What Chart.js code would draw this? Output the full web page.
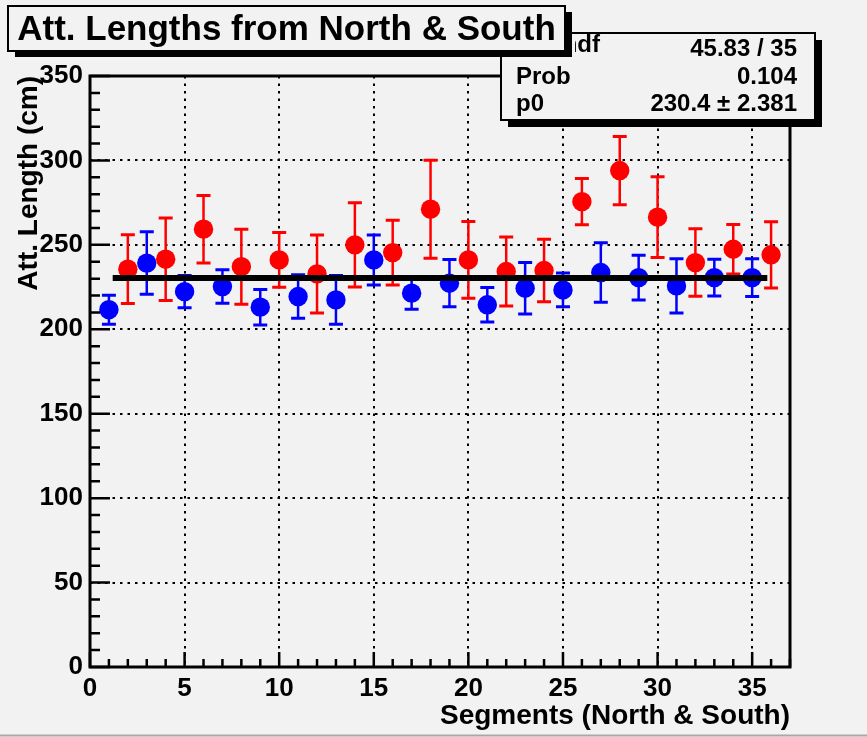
<!DOCTYPE html>
<html><head><meta charset="utf-8">
<script src="https://cdn.jsdelivr.net/npm/chart.js@4/dist/chart.umd.min.js"></script>
<style>html,body{margin:0;padding:0;background:#f2f2f2;}#wrap{width:867px;height:737px;position:relative;}</style>
</head><body><div id="wrap"><canvas id="c" width="867" height="737"></canvas></div>
<script>
// ---- data ----
const blueSegments = [1,3,5,7,9,11,13,15,17,19,21,23,25,27,29,31,33,35];
const blueValues   = [211.6,239.2,222.3,225.3,213.1,219.4,217.4,241.1,221.4,227.3,214.5,224.3,223.3,233.6,230.6,225.7,230.6,230.6];
const blueErrors   = [8.6,18.5,9.5,9.9,10.5,12.9,14.4,14.8,9.5,14.0,10.2,15.3,10.0,17.6,13.3,16.1,10.9,11.2];
const redSegments  = [2,4,6,8,10,12,14,16,18,20,22,24,26,28,30,32,34,36];
const redValues    = [235.6,241.5,259.3,237.1,241.1,232.8,250.0,245.4,271.1,241.1,234.2,234.8,275.6,294.0,266.4,239.5,247.4,244.1];
const redErrors    = [20.4,24.4,20.0,22.2,16.2,23.1,24.9,19.2,29.0,22.7,20.4,18.5,13.7,20.2,23.9,20.0,14.7,19.6];
const fitValue = 230.4;
const fitError = 2.381;
const fitRange = [1.2, 35.8];
const statLabels = ['\u03C7\u00B2 / ndf', 'Prob', 'p0'];
const statValues = ['45.83 / 35', '0.104', '230.4 \u00B1 2.381'];
const xTickValues = [0,5,10,15,20,25,30,35];
const yTickValues = [0,50,100,150,200,250,300,350];
const titleText = 'Att. Lengths from North & South';
const xTitle = 'Segments (North & South)';
const yTitle = 'Att. Length (cm)';

const BG = '#f2f2f2';
const FONT = '"Liberation Sans", Arial, Helvetica, sans-serif';

const rootStyle = {
  id: 'rootStyle',
  beforeDraw(chart) {
    const ctx = chart.ctx;
    ctx.save();
    ctx.fillStyle = BG;
    ctx.fillRect(0, 0, chart.width, chart.height);
    ctx.strokeStyle = '#a8a8a8';
    ctx.lineWidth = 2;
    ctx.beginPath(); ctx.moveTo(0, 735.5); ctx.lineTo(chart.width, 735.5); ctx.stroke();
    ctx.restore();
  },
  beforeDatasetsDraw(chart) {
    const ctx = chart.ctx, xs = chart.scales.x, ys = chart.scales.y;
    const drawErr = (segs, vals, errs, color) => {
      ctx.strokeStyle = color;
      for (let i = 0; i < segs.length; i++) {
        const px = xs.getPixelForValue(segs[i]);
        const pt = ys.getPixelForValue(vals[i] + errs[i]);
        const pb = ys.getPixelForValue(vals[i] - errs[i]);
        ctx.lineWidth = 2.5;
        ctx.beginPath(); ctx.moveTo(px, pt); ctx.lineTo(px, pb); ctx.stroke();
        ctx.lineWidth = 3;
        ctx.beginPath();
        ctx.moveTo(px - 7, pt); ctx.lineTo(px + 7, pt);
        ctx.moveTo(px - 7, pb); ctx.lineTo(px + 7, pb);
        ctx.stroke();
      }
    };
    ctx.save();
    drawErr(redSegments, redValues, redErrors, '#ff0000');
    drawErr(blueSegments, blueValues, blueErrors, '#0000ff');
    ctx.restore();
  },
  afterDatasetsDraw(chart) {
    const ctx = chart.ctx, xs = chart.scales.x, ys = chart.scales.y, a = chart.chartArea;
    ctx.save();
    ctx.strokeStyle = '#000';
    ctx.lineWidth = 2.5;
    ctx.beginPath();
    for (let v = 0; v <= 350; v += 10) {
      const py = ys.getPixelForValue(v);
      const len = (v % 50 === 0) ? 20 : 10;
      ctx.moveTo(a.left, py); ctx.lineTo(a.left + len, py);
    }
    for (let v = 0; v <= 37; v += 1) {
      const px = xs.getPixelForValue(v);
      const len = (v % 5 === 0) ? 15 : 8;
      ctx.moveTo(px, a.bottom); ctx.lineTo(px, a.bottom - len);
    }
    ctx.stroke();
    ctx.lineWidth = 3;
    ctx.strokeRect(a.left, a.top, a.right - a.left, a.bottom - a.top);
    ctx.restore();
  },
  afterDraw(chart) {
    const ctx = chart.ctx;
    ctx.save();
    // stats box
    const sx = 501, sy = 33, sw = 314, sh = 87;
    ctx.fillStyle = '#000';
    ctx.fillRect(sx + 7, sy + 7, sw, sh);
    ctx.fillStyle = BG;
    ctx.fillRect(sx, sy, sw, sh);
    ctx.lineWidth = 2;
    ctx.strokeStyle = '#000';
    ctx.strokeRect(sx, sy, sw, sh);
    ctx.fillStyle = '#000';
    ctx.font = 'bold 24px ' + FONT;
    ctx.textBaseline = 'alphabetic';
    // first label is partly hidden behind the title box (as in the original)
    ctx.save();
    ctx.beginPath(); ctx.rect(575, 20, 100, 50); ctx.clip();
    ctx.textAlign = 'right';
    ctx.fillText(statLabels[0], 600, 52);
    ctx.restore();
    ctx.textAlign = 'left';
    ctx.fillText(statLabels[1], 516, 84);
    ctx.fillText(statLabels[2], 516, 111);
    ctx.textAlign = 'right';
    ctx.fillText(statValues[0], 797, 56);
    ctx.fillText(statValues[1], 797, 84);
    ctx.fillText(statValues[2], 797, 111);
    // title box
    const tx = 8, ty = 6, tw = 557, th = 45;
    ctx.fillStyle = '#000';
    ctx.fillRect(tx + 7, ty + 6, tw, th);
    ctx.fillStyle = BG;
    ctx.fillRect(tx, ty, tw, th);
    ctx.strokeRect(tx, ty, tw, th);
    ctx.fillStyle = '#000';
    ctx.font = 'bold 35px ' + FONT;
    ctx.textAlign = 'center';
    ctx.fillText(titleText, tx + tw / 2, 40);
    ctx.restore();
  }
};

const tickFont = { family: FONT, size: 26, weight: 'bold' };

new Chart(document.getElementById('c'), {
  type: 'scatter',
  data: {
    datasets: [
      { label: 'fit', data: fitRange.map(x => ({ x: x, y: fitValue })), showLine: true,
        borderColor: '#000', borderWidth: 6, pointRadius: 0, pointHoverRadius: 0, borderCapStyle: 'butt' },
      { label: 'red', data: redSegments.map((x, i) => ({ x: x, y: redValues[i] })),
        backgroundColor: '#ff0000', borderWidth: 0, pointRadius: 9.7, pointHoverRadius: 9.7 },
      { label: 'blue', data: blueSegments.map((x, i) => ({ x: x, y: blueValues[i] })),
        backgroundColor: '#0000ff', borderWidth: 0, pointRadius: 9.7, pointHoverRadius: 9.7 }
    ]
  },
  options: {
    responsive: false,
    animation: false,
    events: [],
    layout: { padding: { left: 0, top: 76, right: 77, bottom: 0 } },
    plugins: { legend: { display: false }, tooltip: { enabled: false }, title: { display: false } },
    scales: {
      x: {
        type: 'linear', min: 0, max: 37,
        afterBuildTicks: s => { s.ticks = xTickValues.map(v => ({ value: v })); },
        afterFit: s => { s.height = 70; },
        ticks: { font: tickFont, color: '#000', padding: 6, maxRotation: 0, autoSkip: false },
        grid: { color: '#000', lineWidth: 2, drawTicks: false },
        border: { display: false, dash: [2.5, 5] },
        title: { display: true, text: xTitle, align: 'end', color: '#000',
                 font: { family: FONT, size: 28, weight: 'bold' }, padding: { top: 0, bottom: 4 } }
      },
      y: {
        type: 'linear', min: 0, max: 350,
        afterBuildTicks: s => { s.ticks = yTickValues.map(v => ({ value: v })); },
        afterFit: s => { s.width = 90; },
        ticks: { font: tickFont, color: '#000', padding: 7 },
        grid: { color: '#000', lineWidth: 2, drawTicks: false },
        border: { display: false, dash: [2.5, 5] },
        title: { display: true, text: yTitle, align: 'end', color: '#000',
                 font: { family: FONT, size: 28, weight: 'bold' }, padding: { top: 12, bottom: 0 } }
      }
    }
  },
  plugins: [rootStyle]
});
</script></body></html>
